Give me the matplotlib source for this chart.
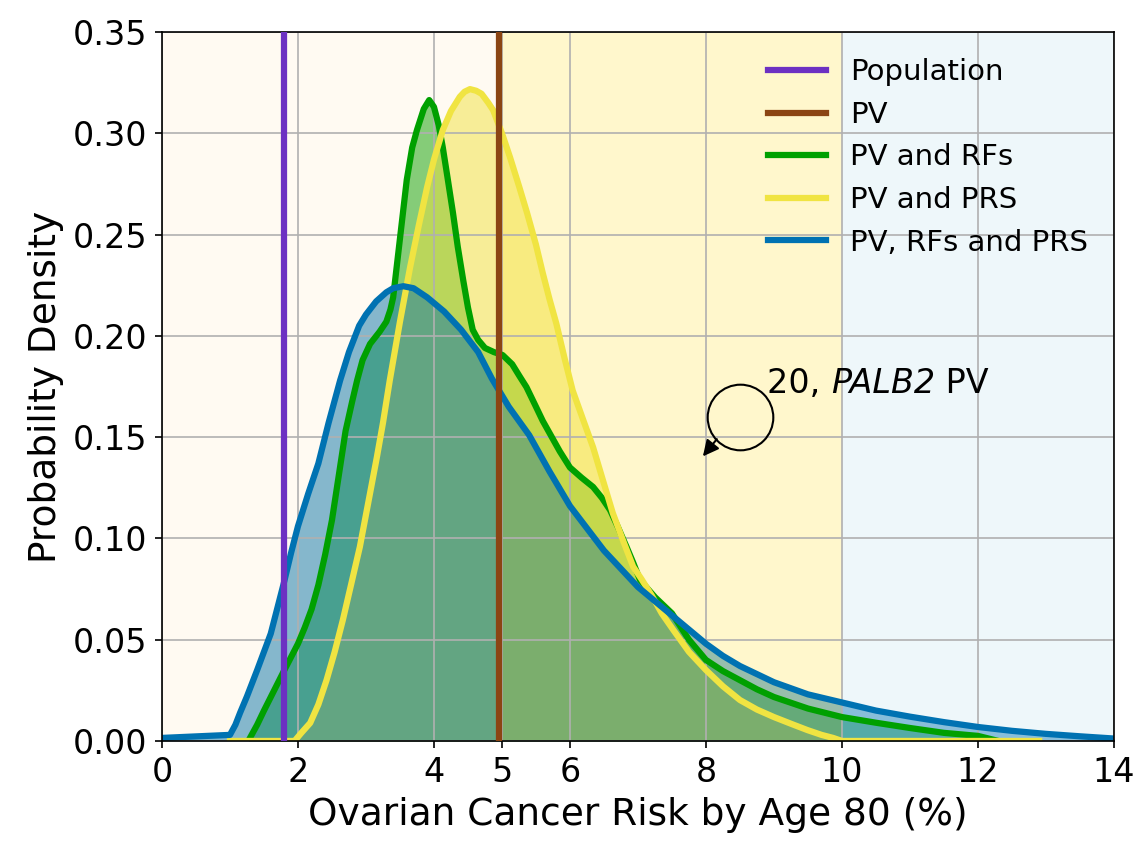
import matplotlib
matplotlib.use('Agg')
import matplotlib.pyplot as plt

# values
POP_RISK = 1.8
PV_RISK = 4.95

X_TICKS = [0, 2, 4, 5, 6, 8, 10, 12, 14]
Y_TICKS = [0.00, 0.05, 0.10, 0.15, 0.20, 0.25, 0.30, 0.35]

rf_x = [1.27, 1.4, 1.5, 1.65, 1.8, 2.0, 2.1, 2.2, 2.3, 2.4, 2.5, 2.6, 2.7,
        2.8, 2.87, 2.95, 3.06, 3.2, 3.3, 3.36, 3.4, 3.5, 3.6, 3.68, 3.75,
        3.85, 3.93, 4.0, 4.07, 4.13, 4.2, 4.28, 4.35, 4.43, 4.5, 4.57, 4.65,
        4.75, 4.88, 5.01, 5.15, 5.26, 5.36, 5.5, 5.6, 5.7, 5.85, 6.0, 6.17,
        6.34, 6.47, 6.59, 6.7, 6.83, 6.93, 7.03, 7.25, 7.5, 7.75, 8.0, 8.25,
        8.5, 8.75, 9.0, 9.5, 10.0, 10.5, 11.0, 11.5, 12.0, 12.3]
rf_y = [0.0, 0.008, 0.015, 0.025, 0.035, 0.048, 0.056, 0.065, 0.077, 0.092,
        0.109, 0.131, 0.153, 0.168, 0.178, 0.188, 0.196, 0.202, 0.207, 0.213,
        0.219, 0.248, 0.277, 0.293, 0.3016, 0.312, 0.3164, 0.313, 0.304,
        0.293, 0.278, 0.2606, 0.244, 0.2275, 0.214, 0.203, 0.198, 0.194,
        0.192, 0.1905, 0.186, 0.180, 0.1747, 0.165, 0.158, 0.152, 0.143,
        0.135, 0.130, 0.1254, 0.120, 0.114, 0.106, 0.096, 0.088, 0.0795,
        0.071, 0.063, 0.050, 0.040, 0.0345, 0.030, 0.0255, 0.0217, 0.016,
        0.0118, 0.009, 0.0064, 0.004, 0.0025, 0.0]

prs_x = [1.0, 1.95, 2.05, 2.18, 2.3, 2.42, 2.54, 2.66, 2.78, 2.91, 3.03,
         3.16, 3.25, 3.35, 3.5, 3.65, 3.78, 3.9, 4.0, 4.13, 4.25, 4.38, 4.45,
         4.53, 4.62, 4.7, 4.8, 4.87, 5.0, 5.12, 5.25, 5.37, 5.5, 5.6, 5.7,
         5.8, 5.92, 6.04, 6.2, 6.34, 6.5, 6.63, 6.78, 6.93, 7.05, 7.2, 7.35,
         7.52, 7.75, 8.0, 8.25, 8.5, 8.75, 9.0, 9.25, 9.49, 9.7, 9.87, 10.0,
         12.9]
prs_y = [0.0, 0.0, 0.004, 0.0089, 0.018, 0.030, 0.044, 0.0597, 0.077,
         0.0958, 0.117, 0.140, 0.157, 0.178, 0.207, 0.234, 0.255, 0.2735,
         0.287, 0.3016, 0.311, 0.318, 0.3205, 0.3218, 0.321, 0.3195, 0.315,
         0.3114, 0.300, 0.288, 0.274, 0.2606, 0.245, 0.231, 0.218, 0.206,
         0.189, 0.173, 0.158, 0.145, 0.127, 0.1125, 0.099, 0.086, 0.080,
         0.072, 0.063, 0.0548, 0.044, 0.035, 0.027, 0.0202, 0.0155, 0.0118,
         0.0085, 0.0054, 0.003, 0.0015, 0.0, 0.0]

all_x = [0, 1.0, 1.08, 1.15, 1.25, 1.4, 1.5, 1.6, 1.7, 1.8, 1.9, 2.0, 2.15,
         2.3, 2.45, 2.62, 2.75, 2.9, 3.0, 3.15, 3.3, 3.4, 3.55, 3.7, 3.9,
         4.15, 4.4, 4.65, 4.85, 5.1, 5.4, 5.7, 6.0, 6.25, 6.5, 6.75, 7.0,
         7.25, 7.5, 7.75, 8.0, 8.25, 8.5, 8.75, 9.0, 9.25, 9.5, 9.75, 10.0,
         10.5, 11.0, 11.5, 12.0, 12.5, 13.0, 13.5, 14.0]
all_y = [0.0015, 0.003, 0.008, 0.014, 0.022, 0.035, 0.044, 0.053, 0.066,
         0.079, 0.093, 0.106, 0.122, 0.137, 0.157, 0.178, 0.192, 0.205,
         0.2105, 0.217, 0.2215, 0.2235, 0.2245, 0.2235, 0.219, 0.212, 0.203,
         0.192, 0.179, 0.165, 0.151, 0.133, 0.116, 0.105, 0.094, 0.085,
         0.076, 0.069, 0.062, 0.055, 0.048, 0.042, 0.037, 0.033, 0.029,
         0.026, 0.023, 0.021, 0.019, 0.015, 0.012, 0.0093, 0.0069, 0.005,
         0.0035, 0.0023, 0.0012]

COLORS = {
    'pop': '#6c31c2',
    'pv': '#8b4513',
    'rf': '#00a000',
    'prs': '#f0e442',
    'all': '#0072b2',
}

plt.rcParams.update({'font.size': 16})

fig, ax = plt.subplots(figsize=(1139 / 150, 842 / 150), dpi=150)
fig.subplots_adjust(left=0.1422, right=0.978, bottom=0.12, top=0.962)

# filled densities first, the risk bands go over them
ax.fill_between(rf_x, rf_y, color=COLORS['rf'], alpha=0.5, lw=0, zorder=1)
ax.fill_between(prs_x, prs_y, color=COLORS['prs'], alpha=0.5, lw=0, zorder=1)
ax.fill_between(all_x, all_y, color=COLORS['all'], alpha=0.5, lw=0, zorder=1)

ax.axvspan(0, 5, color='orange', alpha=0.05, lw=0, zorder=1)
ax.axvspan(5, 10, color='gold', alpha=0.2, lw=0, zorder=1)
ax.axvspan(10, 14, color='lightblue', alpha=0.2, lw=0, zorder=1)

ax.axvline(POP_RISK, color=COLORS['pop'], lw=3, label='Population', zorder=3)
ax.axvline(PV_RISK, color=COLORS['pv'], lw=3, label='PV', zorder=3)
ax.plot(rf_x, rf_y, color=COLORS['rf'], lw=3, label='PV and RFs', zorder=2)
ax.plot(prs_x, prs_y, color=COLORS['prs'], lw=3, label='PV and PRS', zorder=2)
ax.plot(all_x, all_y, color=COLORS['all'], lw=3, label='PV, RFs and PRS',
        zorder=2)

# the looped arrow pointing at the curves
ax.plot([8.5], [0.160], marker='o', ms=31.5, mfc='none', mec='black',
        mew=1.0, zorder=4)
ax.annotate('', xy=(7.955, 0.1405), xytext=(8.16, 0.149),
            arrowprops=dict(arrowstyle='-|>', color='black', lw=1.0,
                            mutation_scale=16, shrinkA=0, shrinkB=0),
            zorder=4)
t1 = ax.text(8.9, 0.172, '20, ', fontsize=16, va='baseline', ha='left',
             zorder=4)
t2 = ax.annotate('PALB2', xy=(1, 0), xycoords=t1, va='bottom', ha='left',
                 fontsize=16, style='italic', zorder=4)
ax.annotate(' PV', xy=(1, 0), xycoords=t2, va='bottom', ha='left',
            fontsize=16, zorder=4)

ax.set_xlim(0, 14)
ax.set_ylim(0, 0.35)
ax.set_xticks(X_TICKS)
ax.set_yticks(Y_TICKS)
ax.set_yticklabels([f'{v:.2f}' for v in Y_TICKS])
ax.grid(True)
ax.set_xlabel('Ovarian Cancer Risk by Age 80 (%)', fontsize=18)
ax.set_ylabel('Probability Density', fontsize=18)
ax.legend(loc='upper right', frameon=False, fontsize=14)

fig.savefig('out.png', dpi=150)
